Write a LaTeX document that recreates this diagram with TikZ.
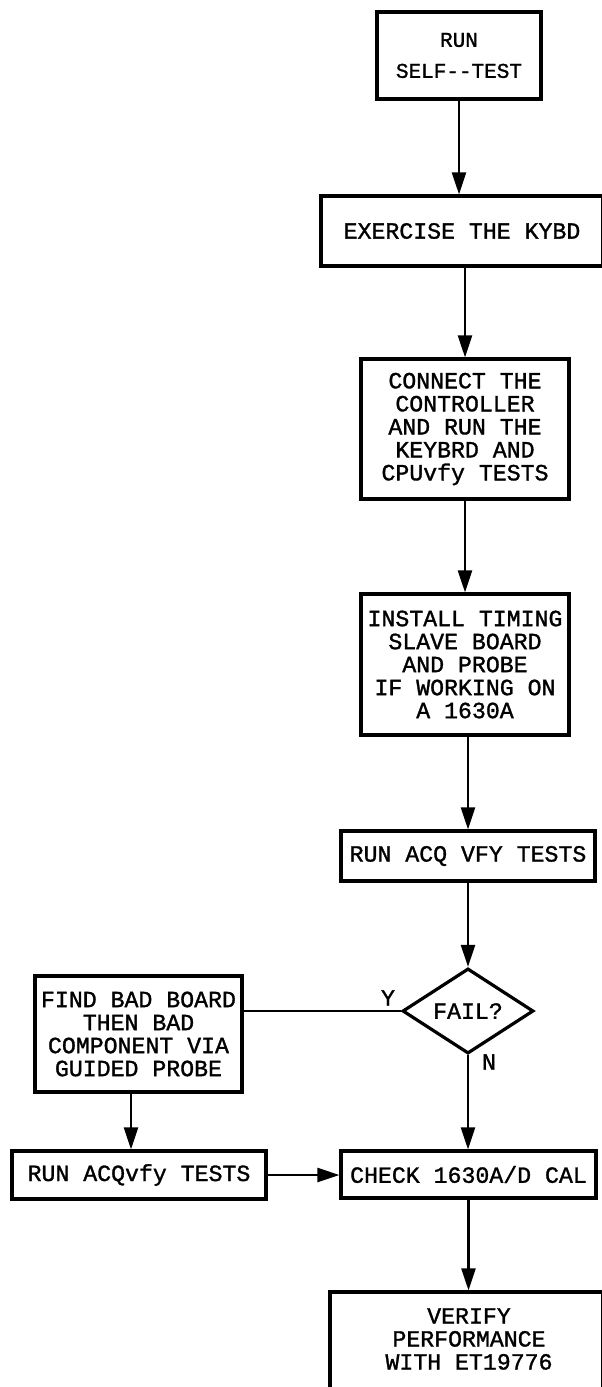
\documentclass[tikz,border=0pt]{standalone}
\usepackage{fontspec}
\newfontfamily\plotfont[FakeBold=1.3]{Liberation Mono}
\usetikzlibrary{arrows.meta,shapes.geometric}
\begin{document}
\begin{tikzpicture}[x=1pt,y=-1pt,
  box/.style={draw,line width=3.2pt,rectangle,inner sep=0pt,align=center,
              font=\plotfont\fontsize{23.2}{23}\selectfont},
  lbl/.style={inner sep=0pt,font=\plotfont\fontsize{23.2}{23}\selectfont},
  flow/.style={line width=2.3pt,-{Triangle[length=22pt,width=14pt]}},
  link/.style={line width=1.7pt}]
\useasboundingbox (0,0) rectangle (602,1387);
\clip (0,0) rectangle (602,1387);
\node[box,minimum width=164,minimum height=87,font=\plotfont\fontsize{21}{31}\selectfont] (selftest) at (459,55.5) {RUN\\SELF-{}-TEST};
\node[box,minimum width=282,minimum height=70] (kybd) at (462,231) {EXERCISE THE KYBD};
\node[box,minimum width=208,minimum height=140] (ctrl) at (465,429) {CONNECT THE\\CONTROLLER\\AND RUN THE\\KEYBRD AND\\CPUvfy TESTS};
\node[box,minimum width=208,minimum height=141] (timing) at (465,664.5) {INSTALL TIMING\\SLAVE BOARD\\AND PROBE\\IF WORKING ON\\A 1630A};
\node[box,minimum width=254,minimum height=50] (acq) at (468,856) {RUN ACQ VFY TESTS};
\node[draw,diamond,line width=3.2pt,inner sep=0pt,minimum width=131,minimum height=75,
      font=\plotfont\fontsize{23.2}{23}\selectfont] (fail) at (468,1011) {FAIL?};
\node[box,minimum width=207,minimum height=116] (find) at (138.5,1034) {FIND BAD BOARD\\THEN BAD\\COMPONENT VIA\\GUIDED PROBE};
\node[box,minimum width=254,minimum height=48] (acqvfy) at (139,1175) {RUN ACQvfy TESTS};
\node[box,minimum width=255,minimum height=47] (cal) at (468.5,1174.5) {CHECK 1630A/D CAL};
\node[box,minimum width=273,minimum height=120] (verify) at (466.5,1352) {};
\node[lbl,align=center] (verifytext) at (469,1339) {VERIFY\\PERFORMANCE\\WITH ET19776};
\node[lbl] (ylab) at (388,998) {Y};
\node[lbl] (nlab) at (489,1062) {N};
\draw[flow] (selftest.south) -- (selftest.south |- kybd.north);
\draw[flow] (ctrl.north |- kybd.south) -- (ctrl.north);
\draw[flow] (ctrl.south) -- (timing.north);
\draw[flow] (acq.north |- timing.south) -- (acq.north);
\draw[flow] (acq.south) -- (fail.north);
\draw[flow] (fail.south) -- (fail.south |- cal.north);
\draw[link] (fail.west) -- (fail.west -| find.east);
\draw[flow] ([xshift=-7.5pt]find.south) -- ([xshift=-7.5pt]find.south |- acqvfy.north);
\draw[flow] (acqvfy.east) -- (acqvfy.east -| cal.west);
\draw[flow] (cal.south) -- (cal.south |- verify.north);
\end{tikzpicture}
\end{document}
